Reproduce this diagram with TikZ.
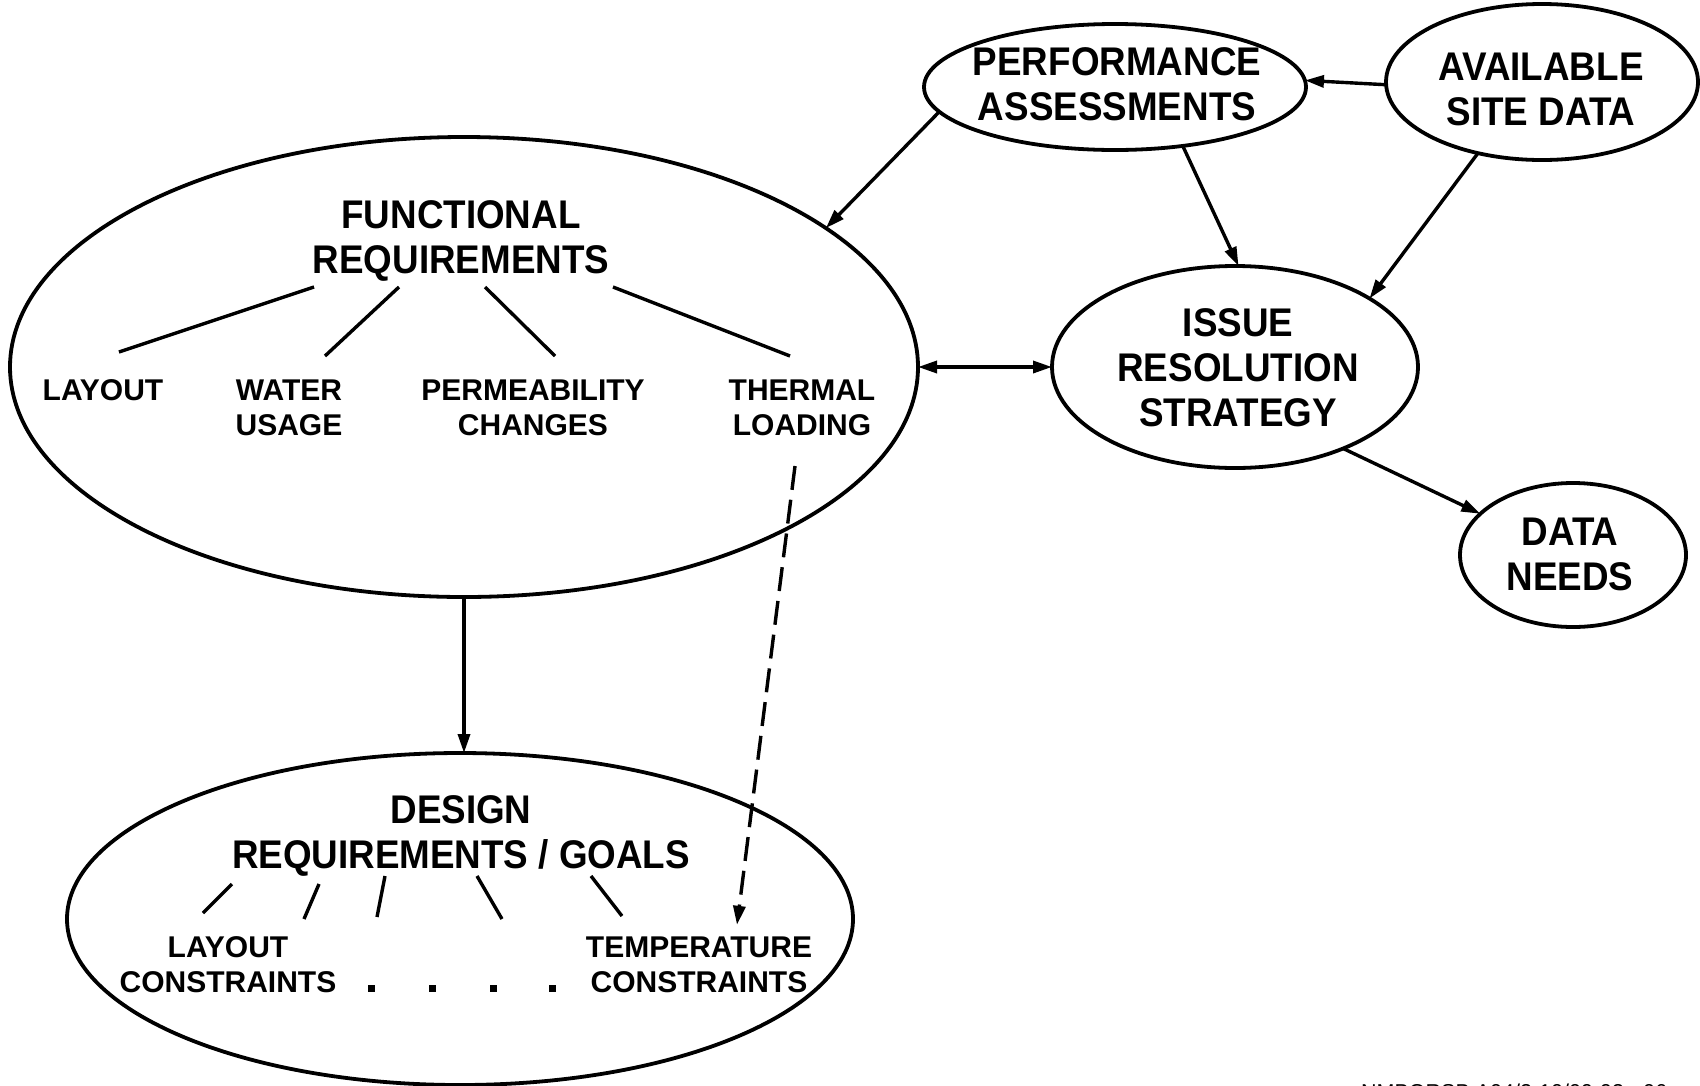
\documentclass[tikz,border=0pt]{standalone}
\usepackage{fontspec}
\setmainfont{Liberation Sans}
\newfontfamily\lblfont{Liberation Sans Bold}[FakeStretch=0.92]
\newfontfamily\itemfont{Liberation Sans Bold}
\usetikzlibrary{arrows.meta,shapes.geometric}

\begin{document}
\begin{tikzpicture}[x=1pt,y=-1pt,
  bubble/.style={draw, ellipse, line width=3.8pt, inner sep=0pt, outer sep=0pt},
  big/.style={font=\lblfont\fontsize{40}{45}\selectfont, align=center, inner sep=0pt},
  small/.style={font=\itemfont\fontsize{30}{35}\selectfont, align=center, inner sep=0pt},
  tip/.tip={Triangle[length=19pt,width=12pt]},
  link/.style={line width=3.4pt, -tip},
  twoway/.style={line width=3.4pt, tip-tip},
  twig/.style={line width=3.4pt},
  dotmark/.style={fill, minimum size=7pt, inner sep=0pt}
]
\useasboundingbox (0,0) rectangle (1700,1085);

% outlines
\node[bubble, minimum width=382pt, minimum height=126pt] (perf)  at (1115,87)  {};
\node[bubble, minimum width=312pt, minimum height=156pt] (avail) at (1542,82)  {};
\node[bubble, minimum width=908pt, minimum height=460pt] (func)  at (464,367)  {};
\node[bubble, minimum width=366pt, minimum height=202pt] (issue) at (1235,367) {};
\node[bubble, minimum width=226pt, minimum height=144pt] (data)  at (1573,555) {};
\node[bubble, minimum width=786pt, minimum height=332pt] (design) at (460,919) {};

% titles
\node[big] (perflbl)  at (1117,84.5) {PERFORMANCE\\ASSESSMENTS};
\node[big] (availlbl) at (1541,89)   {AVAILABLE\\SITE DATA};
\node[big] (funclbl)  at (461,241)   {FUNCTIONAL\\REQUIREMENTS};
\node[big] (issuelbl) at (1238,367.5) {ISSUE\\RESOLUTION\\STRATEGY};
\node[big] (datalbl)  at (1570,554.5) {DATA\\NEEDS};
\node[big] (designlbl) at (461,836)  {DESIGN\\REQUIREMENTS / GOALS};

% functional requirement items
\node[small] (layout)  at (103,390)   {LAYOUT};
\node[small] (water)   at (289,407.5) {WATER\\USAGE};
\node[small] (perm)    at (533,407.5) {PERMEABILITY\\CHANGES};
\node[small] (thermal) at (802,407.5) {THERMAL\\LOADING};

\draw[twig] (314,287) -- (119,352);
\draw[twig] (399,287) -- (325,356);
\draw[twig] (485,287) -- (555,356);
\draw[twig] (613,287) -- (790,356);

% design requirement items
\node[small] (laycon)  at (228,965) {LAYOUT\\CONSTRAINTS};
\node[small] (tempcon) at (699,965) {TEMPERATURE\\CONSTRAINTS};

\draw[twig] (232,884) -- (203,913);
\draw[twig] (319,884) -- (304,919);
\draw[twig] (385,876) -- (377,917);
\draw[twig] (477,876) -- (502,919);
\draw[twig] (591,876) -- (622,916);

\node[dotmark] (d1) at (371,988) {};
\node[dotmark] (d2) at (432,988) {};
\node[dotmark] (d3) at (493,988) {};
\node[dotmark] (d4) at (552,988) {};

% connectors
\draw[link] (avail.181) -- (perf.2);
\draw[link] (perf.188.5) -- (func.21.5);
\draw[link] (perf.-41) -- (issue.88);
\draw[link] (avail.-132) -- (issue.27.4);
\draw[twoway] (func.east) -- (issue.west);
\draw[link] (issue.-37.3) -- (data.156.5);
\draw[link] (func.south) -- (func.south |- design.north);
\coordinate (dashstart) at (795,466);
\draw[link, dash pattern=on 24pt off 10pt] (dashstart) -- ([xshift=38pt,yshift=12pt]tempcon.north);

% drawing number along the lower edge
\begin{scope}
\clip (0,0) rectangle (1700,1085);
\node[anchor=base west, inner sep=0pt, font=\fontsize{21.5}{26}\selectfont] (dwgno) at (1361,1099) {NMBORSB A04/2-10/09-93 - 06};
\end{scope}
\end{tikzpicture}
\end{document}
